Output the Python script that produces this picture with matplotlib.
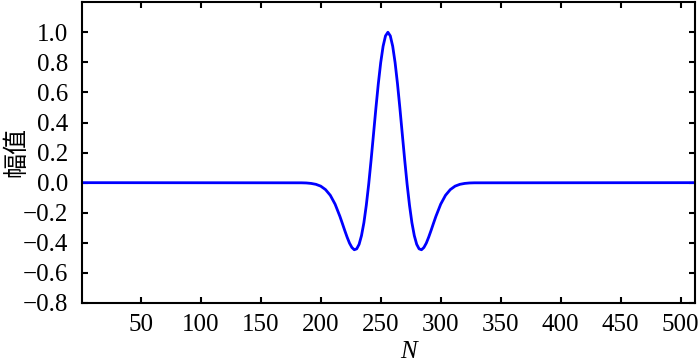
import matplotlib
matplotlib.use('Agg')
import matplotlib.pyplot as plt

# sample index N and amplitude (zero outside 184..328)
n_samples = [1, 184, 188, 192, 196, 200, 204, 208, 212, 216,
             218, 220, 222, 224, 226, 228, 230, 232, 234, 236, 238, 240,
             242, 244, 246, 248, 250, 252, 254, 256, 258, 260, 262, 264,
             266, 268, 270, 272, 274, 276, 278, 280, 282, 284, 286, 288,
             290, 292, 294,
             296, 300, 304, 308, 312, 316, 320, 324, 328, 512]
amplitude = [0.0, -0.001, -0.002, -0.005, -0.011, -0.023, -0.046, -0.084,
             -0.143, -0.224,
             -0.270, -0.317, -0.362, -0.402, -0.431, -0.446, -0.440, -0.410,
             -0.352, -0.266, -0.150, -0.010, 0.151, 0.322, 0.495, 0.657,
             0.798, 0.907, 0.976, 1.0, 0.976, 0.907, 0.798, 0.657, 0.495,
             0.322, 0.151, -0.010, -0.150, -0.266, -0.352, -0.410, -0.440,
             -0.446, -0.431, -0.402, -0.362, -0.317, -0.270,
             -0.224, -0.143, -0.084, -0.046, -0.023, -0.011, -0.005, -0.002,
             -0.001, 0.0]

x_ticks = [50, 100, 150, 200, 250, 300, 350, 400, 450, 500]
y_ticks = [-0.8, -0.6, -0.4, -0.2, 0.0, 0.2, 0.4, 0.6, 0.8, 1.0]

plt.rcParams['font.family'] = ['Liberation Serif', 'Noto Sans CJK SC']
plt.rcParams['axes.unicode_minus'] = True

fig = plt.figure(figsize=(7.0, 3.62), dpi=100)
ax = fig.add_axes([0.117, 0.163, 0.876, 0.831])

ax.plot(n_samples, amplitude, color='#0000ff', lw=2)

ax.set_xlim(1, 512)
ax.set_ylim(-0.8, 1.2)
ax.set_xticks(x_ticks)
ax.set_yticks(y_ticks)
ax.set_yticklabels([f'{v:.1f}'.replace('-', '\u2212') for v in y_ticks])

ax.tick_params(direction='in', length=4, width=1.5, top=True, right=True,
               labelsize=18)
ax.tick_params(axis='y', pad=10)
ax.tick_params(axis='x', pad=8)
for sp in ax.spines.values():
    sp.set_linewidth(1.5)

ax.set_xlabel('N', fontsize=18, style='italic')
ax.xaxis.set_label_coords(0.533, -0.128)
ax.set_ylabel('幅值', fontsize=18, family=['Noto Sans CJK SC'])
ax.yaxis.set_label_coords(-0.086, 0.502)

fig.savefig('out.png', dpi=100)
